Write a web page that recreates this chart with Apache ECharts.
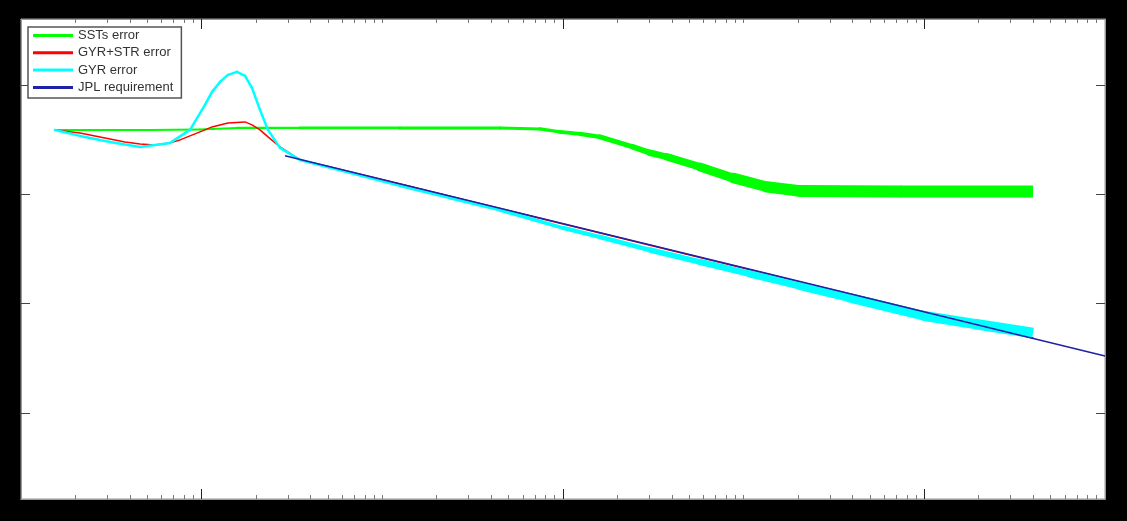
<!DOCTYPE html>
<html>
<head>
<meta charset="utf-8">
<script src="https://cdn.jsdelivr.net/npm/echarts@6/dist/echarts.min.js"></script>
<style>
html,body{margin:0;padding:0;background:#000;}
#c{width:1127px;height:521px;}
</style>
</head>
<body>
<div id="c"></div>
<script>
// ---- data (log-log axes) ----
const legendNames = ['SSTs error', 'GYR+STR error', 'GYR error', 'JPL requirement'];

// SSTs error
const sstX = [0.1542, 0.2737, 0.5176, 0.979, 1.569, 3.502, 12.52, 44.79, 74.6, 96.2, 124.2, 160.2, 244.0, 303.0, 376.3, 573.1, 872.8, 1346, 2050, 7331, 39940];
const sstY = [0.3883, 0.3883, 0.3883, 0.3925, 0.405, 0.405, 0.405, 0.405, 0.3966, 0.3723, 0.3570, 0.335, 0.2715, 0.240, 0.2199, 0.1781, 0.1413, 0.1169, 0.1074, 0.1063, 0.1063];

// GYR+STR error
const gsX = [0.1542, 0.2122, 0.2737, 0.3763, 0.4558, 0.5516, 0.668, 0.7589, 0.8617, 0.979, 1.141, 1.398, 1.737, 1.899, 2.103, 2.329, 2.714, 3.502, 5.132, 12.52, 160.2, 2050, 39940];
const gsY = [0.3883, 0.3646, 0.335, 0.3016, 0.2892, 0.2831, 0.2954, 0.3146, 0.3423, 0.3723, 0.4137, 0.4497, 0.4596, 0.4315, 0.3883, 0.335, 0.2715, 0.2064, 0.1781, 0.1245, 0.04434, 0.01579, 0.004857];

// GYR error
const gyX = [0.1542, 0.2122, 0.3110, 0.4558, 0.668, 0.8617, 1.043, 1.141, 1.263, 1.398, 1.569, 1.737, 1.899, 2.103, 2.329, 2.714, 3.502, 12.52, 23.69, 44.79, 100, 160.2, 303, 573.1, 1084, 2050, 3877, 10000, 19070, 39940];
const gyY = [0.3883, 0.3423, 0.3016, 0.2715, 0.2954, 0.3883, 0.6574, 0.8649, 1.067, 1.237, 1.318, 1.211, 0.9408, 0.5919, 0.3883, 0.2658, 0.2064, 0.1194, 0.09268, 0.0720, 0.04928, 0.04076, 0.03099, 0.02407, 0.01869, 0.01452, 0.01128, 0.00772, 0.006521, 0.005393];

// JPL requirement (power law)
const jplX = [2.892, 100000];
const jplY = [0.2251, 0.003323];

// axis ticks
const xMajorTicks = [1, 100, 10000];
const xMinorTicks = [0.2,0.3,0.4,0.5,0.6,0.7,0.8,0.9, 2,3,4,5,6,7,8,9, 10,20,30,40,50,60,70,80,90,
  200,300,400,500,600,700,800,900, 1000,2000,3000,4000,5000,6000,7000,8000,9000,
  20000,30000,40000,50000,60000,70000,80000,90000];
const yTicks = [0.001, 0.01, 0.1, 1];

// ---- styling: stroke widths that imitate the widening noise band ----
const sstW = [2, 2, 2, 2, 2, 2.5, 3, 3, 3, 3.5, 4, 4.5, 5.5, 6, 7, 8, 10, 11, 12, 12, 12];
const gyW  = [2.5, 2.5, 2.5, 2.5, 2.5, 2.5, 2.5, 2.5, 2.5, 2.5, 2.5, 2.5, 2.5, 2.5, 2.5, 2.5, 2.5, 2.5, 3, 3.5, 4, 4.5, 5, 6, 7, 8, 9, 10, 10.5, 11];

const zip = (xs, ys) => xs.map((x, i) => [x, ys[i]]);
const C_GREEN = '#00ff00', C_RED = '#ff0000', C_CYAN = '#00ffff', C_BLUE = '#2020a8';

function line(name, color, width, data, cap) {
  return {
    type: 'line', name: name, data: data, symbol: 'none', smooth: false,
    xAxisIndex: 0, yAxisIndex: 0,
    lineStyle: { color: color, width: width, cap: cap || 'round', join: 'round' },
    itemStyle: { color: color }, emphasis: { disabled: true }
  };
}
function segs(name, color, xs, ys, ws) {
  const pts = zip(xs, ys), out = [];
  for (let i = 0; i < pts.length - 1; i++) {
    out.push(line(name, color, (ws[i] + ws[i + 1]) / 2, [pts[i], pts[i + 1]], i === pts.length - 2 ? 'butt' : 'round'));
  }
  return out;
}

const X_MIN = 0.1, X_MAX = 100000, Y_MIN = 1.634e-4, Y_MAX = 4.015;

function xAx(pos, ticks, len) {
  return {
    type: 'log', logBase: 10, min: X_MIN, max: X_MAX, position: pos,
    axisLine: { show: true, lineStyle: { color: '#999', width: 1 } },
    axisTick: { show: true, inside: true, length: len, customValues: ticks,
      lineStyle: { color: len > 5 ? '#222' : '#777', width: 1 } },
    axisLabel: { show: false }, splitLine: { show: false }, minorTick: { show: false }
  };
}
function yAx(pos) {
  return {
    type: 'log', logBase: 10, min: Y_MIN, max: Y_MAX, position: pos,
    axisLine: { show: true, lineStyle: { color: '#999', width: 1 } },
    axisTick: { show: true, inside: true, length: 9, customValues: yTicks,
      lineStyle: { color: '#444', width: 1 } },
    axisLabel: { show: false }, splitLine: { show: false }, minorTick: { show: false }
  };
}

const chart = echarts.init(document.getElementById('c'), null, { renderer: 'canvas' });
chart.setOption({
  animation: false,
  backgroundColor: '#000',
  grid: { left: 21, right: 22, top: 19, bottom: 22, show: true, backgroundColor: '#fff', borderColor: '#999', borderWidth: 1 },
  xAxis: [xAx('bottom', xMajorTicks, 10), xAx('bottom', xMinorTicks, 4), xAx('top', xMajorTicks, 10), xAx('top', xMinorTicks, 4)],
  yAxis: [yAx('left'), yAx('right')],
  legend: {
    data: legendNames, orient: 'vertical', left: 28, top: 27,
    backgroundColor: '#fff', borderColor: '#555', borderWidth: 1.5,
    padding: [2, 8, 4, 5], itemWidth: 40, itemHeight: 3, itemGap: 4.3, icon: 'rect',
    textStyle: { fontFamily: 'Liberation Sans, Arial, sans-serif', fontSize: 13, lineHeight: 12, color: '#333' }
  },
  series: [].concat(
    segs('SSTs error', C_GREEN, sstX, sstY, sstW),
    [line('GYR+STR error', C_RED, 1.5, zip(gsX, gsY))],
    segs('GYR error', C_CYAN, gyX, gyY, gyW),
    [line('JPL requirement', C_BLUE, 1.5, zip(jplX, jplY), 'butt')]
  )
});
</script>
</body>
</html>
